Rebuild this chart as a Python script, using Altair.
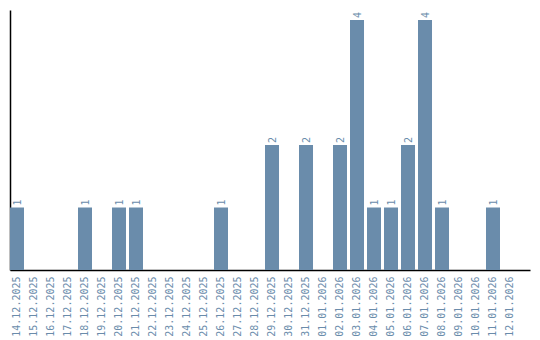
import altair as alt
import pandas as pd

dates = ["14.12.2025","15.12.2025","16.12.2025","17.12.2025","18.12.2025","19.12.2025",
         "20.12.2025","21.12.2025","22.12.2025","23.12.2025","24.12.2025","25.12.2025",
         "26.12.2025","27.12.2025","28.12.2025","29.12.2025","30.12.2025","31.12.2025",
         "01.01.2026","02.01.2026","03.01.2026","04.01.2026","05.01.2026","06.01.2026",
         "07.01.2026","08.01.2026","09.01.2026","10.01.2026","11.01.2026","12.01.2026"]
counts = [1,0,0,0,1,0,1,1,0,0,0,0,1,0,0,2,0,2,0,2,4,1,1,2,4,1,0,0,1,0]

df = pd.DataFrame({"date": dates, "count": counts})
df["label"] = [str(c) if c > 0 else "" for c in counts]

color = "#6a8cab"

x = alt.X("date:N", sort=dates,
          scale=alt.Scale(paddingInner=0.176, paddingOuter=0.382, align=0),
          axis=alt.Axis(title=None, labelAngle=270, labelAlign="right", labelBaseline="middle",
                        labelFont="DejaVu Sans Mono", labelFontSize=10, labelColor=color,
                        ticks=False, labelPadding=6, domainColor="black", domainWidth=1.5,
                        grid=False))
y = alt.Y("count:Q", scale=alt.Scale(domain=[0, 4.16], nice=False),
          axis=alt.Axis(title=None, labels=False, ticks=False, grid=False,
                        domainColor="black", domainWidth=1.5))

bars = alt.Chart(df).mark_bar(color=color).encode(x=x, y=y)
text = alt.Chart(df).mark_text(angle=270, align="left", baseline="middle", dx=2, dy=1,
                               font="DejaVu Sans Mono", fontSize=10, color=color).encode(
    x=alt.X("date:N", sort=dates), y="count:Q", text="label:N")

chart = (bars + text).properties(
    width=520, height=260,
    background="white",
    autosize=alt.AutoSizeParams(type="none"),
    padding={"left": 10, "top": 10, "right": 10, "bottom": 70},
).configure_view(stroke=None, strokeWidth=0)

chart.save("out.html", embed_options={"renderer": "svg", "actions": False})
